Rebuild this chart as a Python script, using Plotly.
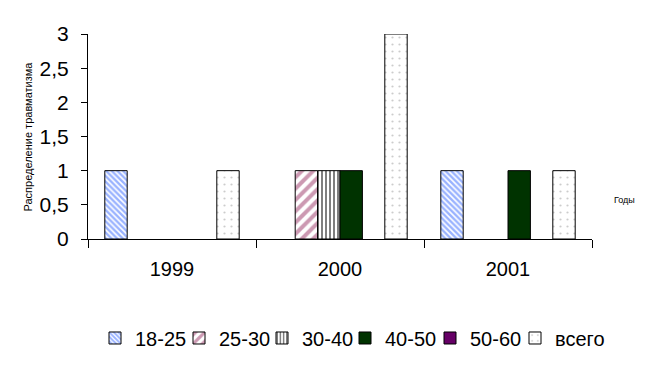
import plotly.graph_objects as go

years = ["1999", "2000", "2001"]
series_names = ["18-25", "25-30", "30-40", "40-50", "50-60", "всего"]
v_18_25 = [1, 0, 1]
v_25_30 = [0, 1, 0]
v_30_40 = [0, 1, 0]
v_40_50 = [0, 1, 1]
v_50_60 = [0, 0, 0]
v_total = [1, 3, 1]
values = [v_18_25, v_25_30, v_30_40, v_40_50, v_50_60, v_total]

styles = [
    dict(color="white", pattern=dict(shape="\\", fgcolor="#3366FF", bgcolor="white", size=4, solidity=0.6)),
    dict(color="white", pattern=dict(shape="/", fgcolor="#993366", bgcolor="white", size=8, solidity=0.5)),
    dict(color="white", pattern=dict(shape="|", fgcolor="black", bgcolor="white", size=4, solidity=0.5)),
    dict(color="#003300"),
    dict(color="#660066"),
    dict(color="white", pattern=dict(shape=".", fgcolor="#999999", bgcolor="white", size=7, solidity=0.08)),
]
# left edge (px) of each legend entry
legend_left_px = [95, 179, 262, 345, 430, 515]

FONT = "Arial, Liberation Sans, sans-serif"
fig = go.Figure()
legend_layout = {}
for i, (name, vals, st, lx) in enumerate(zip(series_names, values, styles, legend_left_px)):
    lid = "legend" if i == 0 else f"legend{i + 1}"
    marker = dict(st)
    marker["line"] = dict(color="black", width=1)
    # zero values are not drawn as bars (as in the original chart)
    yvals = [v if v else None for v in vals]
    fig.add_trace(go.Bar(x=years, y=yvals, name=name, marker=marker, legend=lid))
    legend_layout[lid] = dict(orientation="h", yref="container", y=0.074, yanchor="middle",
                              xref="container", xanchor="left", x=lx / 648,
                              font=dict(size=20, family=FONT), itemwidth=30,
                              bgcolor="rgba(0,0,0,0)")

fig.update_layout(
    width=648, height=365,
    margin=dict(l=88, r=56, t=34, b=126),
    paper_bgcolor="white", plot_bgcolor="white",
    barmode="group", bargap=0.2, bargroupgap=0,
    separators=", ",
    font=dict(family=FONT, color="black"),
    showlegend=True,
    **legend_layout,
)
fig.update_xaxes(showline=True, linecolor="black", linewidth=1, ticks="outside", ticklen=8,
                 tickcolor="black", tickson="boundaries", tickfont=dict(size=20), showgrid=False,
                 ticklabelstandoff=12)
fig.update_yaxes(range=[0, 3], dtick=0.5, showline=True, linecolor="black", linewidth=1,
                 ticks="outside", ticklen=6, tickcolor="black", tickfont=dict(size=21),
                 showgrid=False, zeroline=False, ticklabelstandoff=8)
fig.add_annotation(text="Распределение травматизма", textangle=-90, xref="paper", yref="paper",
                   x=-0.121, y=0.5, xanchor="center", yanchor="middle", showarrow=False,
                   font=dict(size=11, family=FONT))
fig.add_annotation(text="Годы", xref="paper", yref="paper", x=1.065, y=0.19,
                   xanchor="center", yanchor="middle", showarrow=False, font=dict(size=9, family=FONT))
fig.write_html("out.html")
